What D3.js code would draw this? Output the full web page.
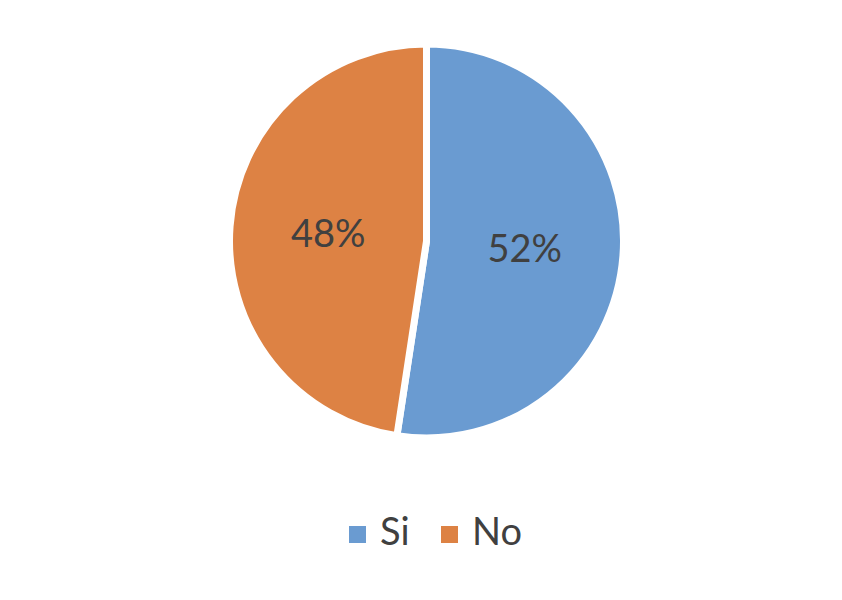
<!DOCTYPE html>
<html>
<head>
<meta charset="utf-8">
<script src="https://cdn.jsdelivr.net/npm/d3@7"></script>
<style>
  body { margin: 0; background: #fff; }
  text { font-family: Lato, "Open Sans", sans-serif; fill: #404040; }
</style>
</head>
<body>
<svg id="chart" width="842" height="600"></svg>
<script>
// chart data (shares)
var categories = ["Si", "No"];
var values = [52.4, 47.6];
var colors = ["#6a9bd1", "#dd8244"];

var svg = d3.select("#chart");
var cx = 426.5, cy = 241, radius = 197;

var color = d3.scaleOrdinal().domain(categories).range(colors);

var pie = d3.pie()
    .sort(null)
    .value(function(d) { return d.value; });

var data = categories.map(function(c, i) { return {name: c, value: values[i]}; });
var total = d3.sum(values);

var arc = d3.arc().innerRadius(0).outerRadius(radius);

var g = svg.append("g").attr("transform", "translate(" + cx + "," + cy + ")");

g.selectAll("path")
    .data(pie(data))
    .enter()
    .append("path")
    .attr("d", arc)
    .style("fill", function(d) { return color(d.data.name); })
    .style("stroke", "#fff")
    .style("stroke-width", 7)
    .style("stroke-linejoin", "miter");

g.selectAll("text.lbl")
    .data(pie(data))
    .enter()
    .append("text")
    .attr("class", "lbl")
    .attr("x", function(d) { return arc.centroid(d)[0]; })
    .attr("y", function(d) { return arc.centroid(d)[1]; })
    .attr("dy", "0.36em")
    .attr("text-anchor", "middle")
    .style("font-size", "38px")
    .text(function(d) { return Math.round(d.data.value / total * 100) + "%"; });

// legend
var legendX = d3.scaleOrdinal().domain(categories).range([349, 441]);
var legend = svg.append("g");

var item = legend.selectAll("g")
    .data(categories)
    .enter()
    .append("g")
    .attr("transform", function(d) { return "translate(" + legendX(d) + ",526)"; });

item.append("rect")
    .attr("width", 17)
    .attr("height", 17)
    .style("fill", function(d) { return color(d); });

item.append("text")
    .attr("x", 31)
    .attr("y", 19)
    .style("font-size", "38px")
    .text(function(d) { return d; });
</script>
</body>
</html>
